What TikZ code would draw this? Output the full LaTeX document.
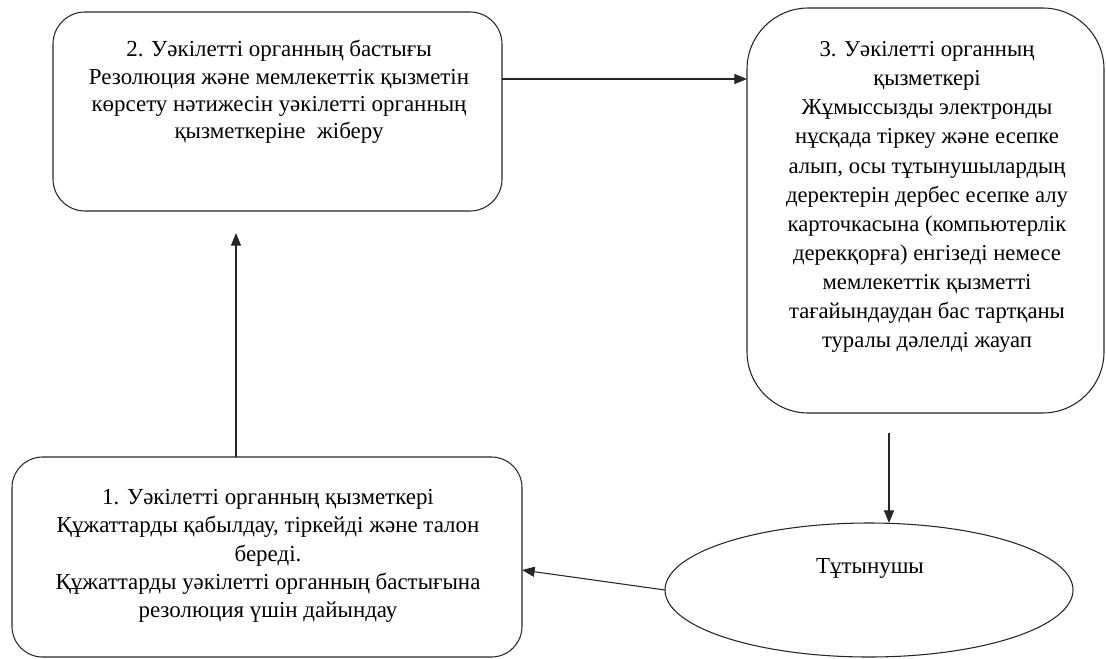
\documentclass[tikz,border=0pt]{standalone}
\usepackage{fontspec}
\setmainfont{Liberation Serif}
\usetikzlibrary{arrows.meta,shapes.geometric}
\begin{document}
\begin{tikzpicture}[x=0.75pt,y=-0.75pt,
  box/.style={draw=black!85,line width=0.8pt,inner sep=0pt,outer sep=0pt},
  txt/.style={align=center,inner sep=0pt,font=\fontsize{17.2pt}{20.6pt}\selectfont},
  arr/.style={draw=black!85,line width=0.8pt,-{Triangle[length=9.5pt,width=7.5pt]}}]
\useasboundingbox (0,0) rectangle (1106,658);
\node[box,rounded corners=24pt,minimum width=336.75pt,minimum height=149.25pt] (box2) at (277.5,111.5) {};
\node[box,rounded corners=46pt,minimum width=267.75pt,minimum height=303.75pt] (box3) at (925.5,210.5) {};
\node[box,rounded corners=23pt,minimum width=382.5pt,minimum height=150pt] (box1) at (267,557) {};
\node[box,ellipse,minimum width=306pt,minimum height=100.5pt] (ell) at (869,590) {};
\node[txt] (t2) at (279,92) {2. Уәкілетті органның бастығы\\Резолюция және мемлекеттік қызметін\\көрсету нәтижесін уәкілетті органның\\қызметкеріне~~жіберу};
\node[txt,font=\fontsize{17pt}{21.8pt}\selectfont] (t3) at (927,197) {3. Уәкілетті органның\\қызметкері\\Жұмыссызды электронды\\нұсқада тіркеу және есепке\\алып, осы тұтынушылардың\\деректерін дербес есепке алу\\карточкасына (компьютерлік\\дерекқорға) енгізеді немесе\\мемлекеттік қызметті\\тағайындаудан бас тартқаны\\туралы дәлелді жауап};
\node[txt,font=\fontsize{17.2pt}{21.2pt}\selectfont] (t1) at (268,556) {1. Уәкілетті органның қызметкері\\Құжаттарды қабылдау, тіркейді және талон\\береді.\\Құжаттарды уәкілетті органның бастығына\\резолюция үшін дайындау};
\node[txt] (te) at (870,568) {Тұтынушы};
\coordinate (r2) at (0,79);
\coordinate (c1) at (236,233);
\coordinate (c3) at (889,433);
\coordinate (c4) at (0,570);
\draw[arr] (box2.east |- r2) -- (box3.west |- r2);
\draw[arr] (box1.north -| c1) -- (c1);
\draw[arr] (c3) -- (ell.north -| c3);
\draw[arr] (ell.west) -- (box1.east |- c4);
\end{tikzpicture}
\end{document}
